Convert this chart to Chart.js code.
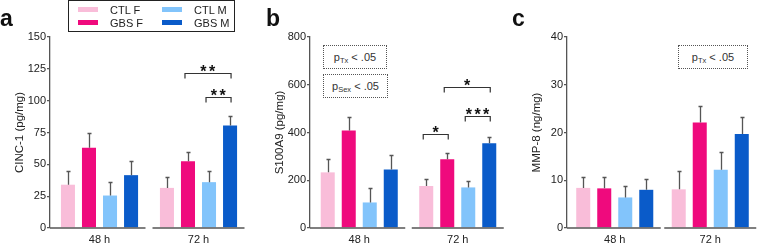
<!DOCTYPE html>
<html><head><meta charset="utf-8">
<script src="https://cdn.jsdelivr.net/npm/chart.js@4.4.1/dist/chart.umd.min.js"></script>
<style>
body{margin:0;width:758px;height:245px;overflow:hidden;background:#fff;position:relative;font-family:"Liberation Sans",Arial,sans-serif;color:#222;}
.panel{position:absolute;top:0;}
.letter{position:absolute;font-weight:bold;font-size:23px;line-height:23px;color:#111;}
.legend{position:absolute;left:68px;top:0;width:167px;height:32px;box-sizing:border-box;border:1px solid #222;background:#fff;}
.li{position:absolute;font-size:11px;line-height:12px;white-space:nowrap;}
.sw{position:absolute;width:20px;height:5px;}
.pbox{position:absolute;box-sizing:border-box;border:1px dotted #555;font-size:11px;line-height:22px;text-align:center;white-space:nowrap;background:#fff;color:#333;}
.pbox sub{font-size:7.5px;vertical-align:-2px;line-height:0;}
</style></head>
<body>
<canvas id="ca" class="panel" style="left:0px" width="250" height="245"></canvas>
<canvas id="cb" class="panel" style="left:260px" width="250" height="245"></canvas>
<canvas id="cc" class="panel" style="left:517px" width="241" height="245"></canvas>

<div class="letter" style="left:0px;top:7px">a</div>
<div class="letter" style="left:266px;top:7px">b</div>
<div class="letter" style="left:512px;top:7px">c</div>

<div class="legend" id="legend"></div>

<div class="pbox" style="left:323px;top:45px;width:64px;height:24px"><span>p<sub>Tx</sub>&nbsp;&lt; .05</span></div>
<div class="pbox" style="left:323px;top:74px;width:65px;height:24px"><span>p<sub>Sex</sub>&nbsp;&lt; .05</span></div>
<div class="pbox" style="left:678px;top:45px;width:70px;height:24px"><span>p<sub>Tx</sub>&nbsp;&lt; .05</span></div>

<script>
// ---------- data ----------
const groups = ["48 h", "72 h"];
const seriesNames = ["CTL F", "GBS F", "CTL M", "GBS M"];
const seriesColors = ["#f9bdd9", "#ef0a7d", "#82c4fb", "#0a5bc9"];

// Panel a: CINC-1 (pg/mg)
const cinc_ctlF = [34, 31.5];
const cinc_gbsF = [63, 52.5];
const cinc_ctlM = [25.5, 36];
const cinc_gbsM = [41.5, 80.5];
const cinc_ctlF_sem = [10.5, 8.5];
const cinc_gbsF_sem = [11.5, 7.5];
const cinc_ctlM_sem = [11, 8.5];
const cinc_gbsM_sem = [11.5, 7.5];
const cinc_ticks = [0, 25, 50, 75, 100, 125, 150];

// Panel b: S100A9 (pg/mg)
const s100_ctlF = [233, 176];
const s100_gbsF = [408, 288];
const s100_ctlM = [107, 170];
const s100_gbsM = [245, 355];
const s100_ctlF_sem = [54, 29];
const s100_gbsF_sem = [59, 28];
const s100_ctlM_sem = [61, 28];
const s100_gbsM_sem = [59, 28];
const s100_ticks = [0, 200, 400, 600, 800];

// Panel c: MMP-8 (ng/mg)
const mmp_ctlF = [8.4, 8.1];
const mmp_gbsF = [8.3, 22.1];
const mmp_ctlM = [6.4, 12.2];
const mmp_gbsM = [8.0, 19.7];
const mmp_ctlF_sem = [2.2, 3.9];
const mmp_gbsF_sem = [2.4, 3.4];
const mmp_ctlM_sem = [2.4, 3.7];
const mmp_gbsM_sem = [2.3, 3.5];
const mmp_ticks = [0, 10, 20, 30, 40];

// significance brackets: [group index, from series, to series, y value, label]
const cinc_brackets = [[1, 1, 3, 122, "**"], [1, 2, 3, 103, "**"]];
const s100_brackets = [[1, 0, 1, 394, "*"], [1, 1, 3, 592, "*"], [1, 2, 3, 470, "***"]];
const mmp_brackets = [];

// ---------- legend ----------
(function(){
  const lg = document.getElementById('legend');
  const pos = [[9, 3], [9, 16], [93, 3], [93, 16]];
  seriesNames.forEach((n, i) => {
    const [x, y] = pos[i];
    const sw = document.createElement('div');
    sw.className = 'sw'; sw.style.left = x + 'px'; sw.style.top = (y + 3) + 'px';
    sw.style.background = seriesColors[i];
    lg.appendChild(sw);
    const t = document.createElement('div');
    t.className = 'li'; t.style.left = (x + 32) + 'px'; t.style.top = y + 'px';
    t.textContent = n;
    lg.appendChild(t);
  });
})();

// ---------- overlay plugin ----------
const overlay = {
  id: 'overlay',
  afterDatasetsDraw(chart) {
    const ctx = chart.ctx, ys = chart.scales.y, xs = chart.scales.x, ca = chart.chartArea;
    ctx.save();
    // baselines per group
    ctx.strokeStyle = '#555'; ctx.lineWidth = 1.4;
    groups.forEach((g, j) => {
      const c = xs.getPixelForValue(j);
      const l = j === 0 ? ca.left : c - 46;
      const r = Math.min(c + 46, ca.right);
      ctx.beginPath(); ctx.moveTo(l, ca.bottom); ctx.lineTo(r, ca.bottom); ctx.stroke();
    });
    // error bars
    ctx.strokeStyle = '#555'; ctx.lineWidth = 1.3;
    chart.data.datasets.forEach((ds, i) => {
      const meta = chart.getDatasetMeta(i);
      meta.data.forEach((bar, j) => {
        const top = Math.round(ys.getPixelForValue(ds.data[j] + ds.sem[j])) + 0.5;
        const x = Math.round(bar.x) + 0.5;
        ctx.beginPath();
        ctx.moveTo(x, bar.y); ctx.lineTo(x, top);
        ctx.moveTo(x - 2, top); ctx.lineTo(x + 2, top);
        ctx.stroke();
      });
    });
    // brackets
    const br = chart.options.plugins.overlay.brackets || [];
    ctx.strokeStyle = '#333'; ctx.lineWidth = 1.2; ctx.fillStyle = '#111';
    ctx.font = 'bold 16px "Liberation Sans", Arial, sans-serif';
    ctx.textAlign = 'center'; ctx.textBaseline = 'alphabetic';
    ctx.letterSpacing = '2.5px';
    br.forEach(([g, a, b, v, lab]) => {
      const xa = chart.getDatasetMeta(a).data[g].x - 3;
      const xb = chart.getDatasetMeta(b).data[g].x + 1;
      const y = Math.round(ys.getPixelForValue(v)) + 0.5;
      ctx.beginPath();
      ctx.moveTo(xa, y + 5); ctx.lineTo(xa, y); ctx.lineTo(xb, y); ctx.lineTo(xb, y + 5);
      ctx.stroke();
      ctx.fillText(lab, (xa + xb) / 2 + 1, y + 3);
    });
    ctx.restore();
  }
};

function makePanel(id, vals, sems, ticks, title, brackets, cp) {
  const maxV = ticks[ticks.length - 1];
  const step = ticks[1] - ticks[0];
  return new Chart(document.getElementById(id), {
    type: 'bar',
    data: {
      labels: groups,
      datasets: seriesNames.map((n, i) => ({
        label: n, data: vals[i], sem: sems[i],
        backgroundColor: seriesColors[i], borderWidth: 0,
        categoryPercentage: cp, barPercentage: 0.667
      }))
    },
    options: {
      responsive: false, animation: false, devicePixelRatio: 1,
      layout: { padding: { top: 37, right: id === 'cb' ? 3 : (id === 'ca' ? 2 : 0), bottom: 0, left: 0 } },
      plugins: { legend: { display: false }, tooltip: { enabled: false }, overlay: { brackets } },
      scales: {
        x: {
          type: 'category', offset: true,
          grid: { display: false, drawTicks: false },
          border: { display: false },
          ticks: { color: '#222', font: { family: '"Liberation Sans", Arial, sans-serif', size: 11 }, padding: 5, maxRotation: 0 },
          afterFit(s) { s.height = 17; }
        },
        y: {
          min: 0, max: maxV,
          grid: { display: true, drawOnChartArea: false, drawTicks: true, tickLength: 3, color: '#555', lineWidth: 1.3 },
          border: { display: true, color: '#555', width: 1.3 },
          ticks: { stepSize: step, color: '#222', padding: 1, font: { family: '"Liberation Sans", Arial, sans-serif', size: 11 } },
          title: { display: true, text: title, color: '#222', font: { family: '"Liberation Sans", Arial, sans-serif', size: 11.5 }, padding: { top: 13, bottom: 0 } },
          afterFit(s) { s.width = 50; }
        }
      }
    },
    plugins: [overlay]
  });
}

makePanel('ca', [cinc_ctlF, cinc_gbsF, cinc_ctlM, cinc_gbsM],
  [cinc_ctlF_sem, cinc_gbsF_sem, cinc_ctlM_sem, cinc_gbsM_sem], cinc_ticks, 'CINC-1 (pg/mg)', cinc_brackets, 0.85);
makePanel('cb', [s100_ctlF, s100_gbsF, s100_ctlM, s100_gbsM],
  [s100_ctlF_sem, s100_gbsF_sem, s100_ctlM_sem, s100_gbsM_sem], s100_ticks, 'S100A9 (pg/mg)', s100_brackets, 0.853);
makePanel('cc', [mmp_ctlF, mmp_gbsF, mmp_ctlM, mmp_gbsM],
  [mmp_ctlF_sem, mmp_gbsF_sem, mmp_ctlM_sem, mmp_gbsM_sem], mmp_ticks, 'MMP-8 (ng/mg)', mmp_brackets, 0.88);
</script>
</body></html>
